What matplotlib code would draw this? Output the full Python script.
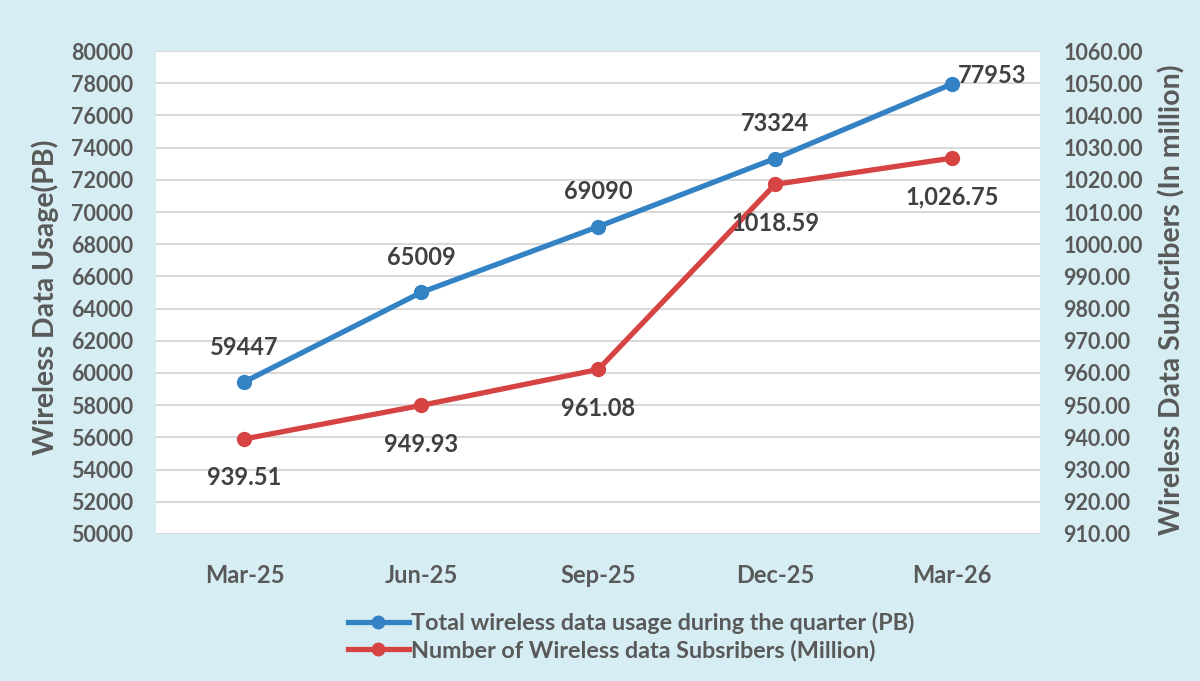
import matplotlib.pyplot as plt

quarters = ['Mar-25', 'Jun-25', 'Sep-25', 'Dec-25', 'Mar-26']
usage_pb = [59447, 65009, 69090, 73324, 77953]
subscribers = [939.51, 949.93, 961.08, 1018.59, 1026.75]
usage_labels = ['59447', '65009', '69090', '73324', '77953']
sub_labels = ['939.51', '949.93', '961.08', '1018.59', '1,026.75']

bg = '#d6eef3'
blue = '#3383c4'
red = '#d64343'
grey = '#595959'
dark = '#404040'

plt.rcParams['font.family'] = ['Lato', 'DejaVu Sans']

fig = plt.figure(figsize=(12, 6.81), dpi=100, facecolor=bg)
ax = fig.add_axes([0.13, 0.216, 0.737, 0.709])
ax2 = ax.twinx()
x = list(range(len(quarters)))

l1, = ax.plot(x, usage_pb, color=blue, lw=3.8, marker='o', ms=10, zorder=3,
              label='Total wireless data usage during the quarter (PB)')
l2, = ax2.plot(x, subscribers, color=red, lw=3.8, marker='o', ms=10, zorder=3,
               label='Number of Wireless data Subsribers (Million)')

ax.set_xlim(-0.5, 4.5)
ax.set_ylim(50000, 80000)
ax.set_yticks(range(50000, 80001, 2000))
ax2.set_ylim(910, 1060)
ax2.set_yticks(range(910, 1061, 10))
ax2.set_yticklabels(['%.2f' % v for v in range(910, 1061, 10)])
ax.set_xticks(x)
ax.set_xticklabels(quarters)

ax.grid(axis='y', color='#d9d9d9', lw=1.5)
ax.set_axisbelow(True)
for a in (ax, ax2):
    for s in a.spines.values():
        s.set_visible(False)
    a.tick_params(length=0, colors=grey, labelsize=15.5)
    for t in a.get_xticklabels() + a.get_yticklabels():
        t.set_fontweight('bold')
ax.tick_params(axis='x', pad=22, labelsize=17)
ax.tick_params(axis='y', pad=16.5)
ax2.tick_params(axis='y', pad=16.5)

ax.set_ylabel('Wireless Data Usage(PB)', color=grey, fontsize=20.5, fontweight='bold')
ax2.set_ylabel('Wireless Data Subscribers (In million)', color=grey, fontsize=20.5,
               fontweight='bold')
ax.yaxis.set_label_coords(-0.1256, 0.49)
ax.yaxis.label.set_verticalalignment('center')
ax2.yaxis.set_label_coords(1.149, 0.485)
ax2.yaxis.label.set_verticalalignment('center')

# data labels
for i, (v, s) in enumerate(zip(usage_pb, usage_labels)):
    if i == len(usage_pb) - 1:
        ax.annotate(s, (i, v), xytext=(4, 6), textcoords='offset points', ha='left',
                    va='center', fontsize=17, fontweight='bold', color=dark)
    else:
        ax.annotate(s, (i, v), xytext=(0, 25), textcoords='offset points', ha='center',
                    va='center', fontsize=17, fontweight='bold', color=dark)
for i, (v, s) in enumerate(zip(subscribers, sub_labels)):
    ax2.annotate(s, (i, v), xytext=(0, -28), textcoords='offset points', ha='center',
                 va='center', fontsize=17, fontweight='bold', color=dark)

leg = fig.legend(handles=[l1, l2], loc='center', bbox_to_anchor=(0.526, 0.065), frameon=False,
                 fontsize=16.8, handlelength=2.6, handletextpad=0.1, labelspacing=0.25,
                 markerscale=0.9)
for t in leg.get_texts():
    t.set_color(grey)
    t.set_fontweight('bold')

fig.savefig('out.png', dpi=100, facecolor=bg)
